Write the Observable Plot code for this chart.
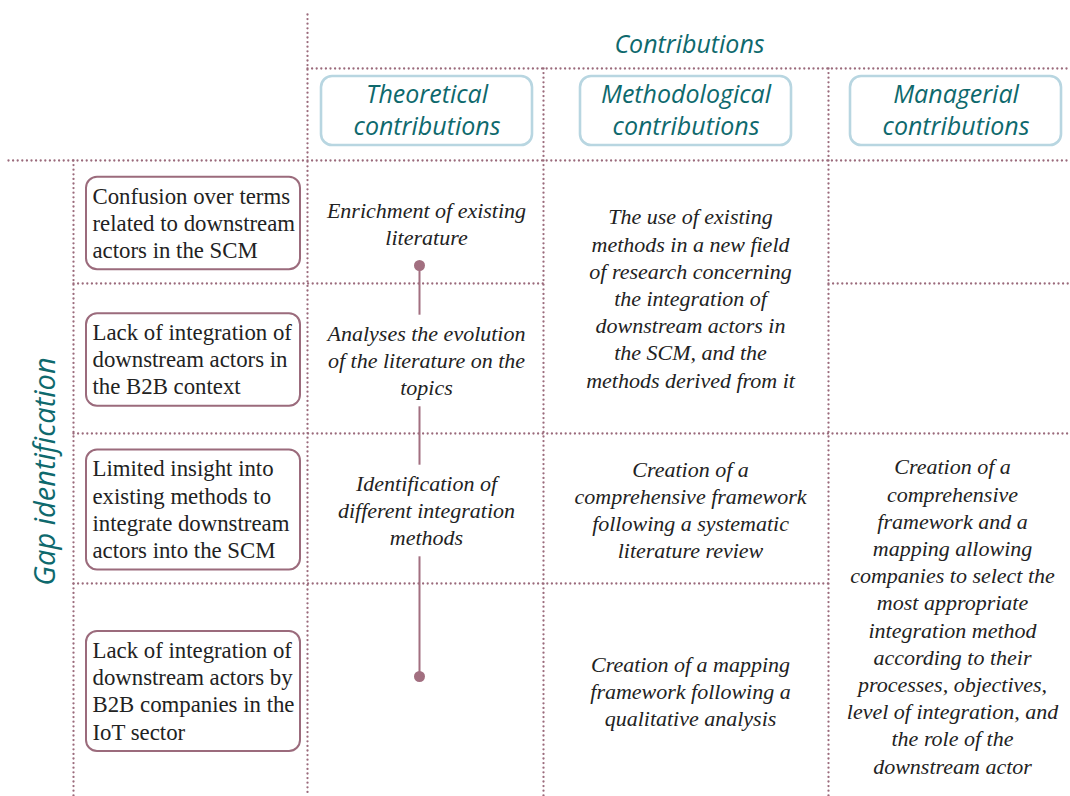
<!DOCTYPE html>
<html>
<head>
<meta charset="utf-8">
<script src="https://cdn.jsdelivr.net/npm/d3@7"></script>
<script src="https://cdn.jsdelivr.net/npm/@observablehq/plot@0.6"></script>
<style>
  html, body { margin: 0; padding: 0; background: #fff; }
  #chart svg { display: block; }
</style>
</head>
<body>
<div id="chart"></div>
<script>
// ---------- data ----------
const mainTitle = "Contributions";
const sideTitle = "Gap identification";
const contributionTypes = ["Theoretical\ncontributions", "Methodological\ncontributions", "Managerial\ncontributions"];
const gaps = [
  "Confusion over terms\nrelated to downstream\nactors in the SCM",
  "Lack of integration of\ndownstream actors in\nthe B2B context",
  "Limited insight into\nexisting methods to\nintegrate downstream\nactors into the SCM",
  "Lack of integration of\ndownstream actors by\nB2B companies in the\nIoT sector"
];
// theoretical contributions: one per gap row
const theoretical = [
  "Enrichment of existing\nliterature",
  "Analyses the evolution\nof the literature on the\ntopics",
  "Identification of\ndifferent integration\nmethods"
];
const theoreticalRows = [0, 1, 2];
// methodological contributions: [first row, last row]
const methodological = [
  "The use of existing\nmethods in a new field\nof research concerning\nthe integration of\ndownstream actors in\nthe SCM, and the\nmethods derived from it",
  "Creation of a\ncomprehensive framework\nfollowing a systematic\nliterature review",
  "Creation of a mapping\nframework following a\nqualitative analysis"
];
const methodologicalRows = [[0, 1], [2, 2], [3, 3]];
const managerial = [
  "Creation of a\ncomprehensive\nframework and a\nmapping allowing\ncompanies to select the\nmost appropriate\nintegration method\naccording to their\nprocesses, objectives,\nlevel of integration, and\nthe role of the\ndownstream actor"
];
const managerialRows = [[2, 3]];

// ---------- layout ----------
const W = 1070, H = 796;
const colX = [8, 73, 307, 543, 828, 1070];
const topY = 14, headY = 68, gridY = 160;
const rowY = [160, 283, 433, 583, 796];
const LH = 27.2;
const dotColor = "#9b6b7c";
const teal = "#0e696d";
const ink = "#222";
const serifFont = "Liberation Serif";
const sansFont = "Open Sans";

const rowCenter = (a, b) => (rowY[a] + rowY[b + 1]) / 2;
const nLines = s => s.split("\n").length;
const toLines = (items, lh) => items.flatMap(d => {
  const ls = d.t.split("\n");
  return ls.map((line, j) => ({line, x: d.x, y: d.cy + (j - (ls.length - 1) / 2) * lh}));
});

const grid = [
  {x1: colX[2], y1: topY, x2: colX[2], y2: H},
  {x1: colX[3], y1: headY, x2: colX[3], y2: H},
  {x1: colX[4], y1: headY, x2: colX[4], y2: H},
  {x1: colX[1], y1: gridY, x2: colX[1], y2: H},
  {x1: colX[2], y1: headY, x2: W, y2: headY},
  {x1: colX[0], y1: gridY, x2: W, y2: gridY},
  {x1: colX[1], y1: rowY[1], x2: colX[3], y2: rowY[1]},
  {x1: colX[4], y1: rowY[1], x2: W, y2: rowY[1]},
  {x1: colX[1], y1: rowY[2], x2: W, y2: rowY[2]},
  {x1: colX[1], y1: rowY[3], x2: colX[4], y2: rowY[3]}
];

const headBoxW = 211, headBoxH = 69;
const headCx = [426.5, 685.5, 955.5];
const heads = contributionTypes.map((t, i) => ({t, x: headCx[i], cx: headCx[i], cy: 110.5}));

const gapItems = gaps.map((t, i) => {
  const cy = rowCenter(i, i) + 1.5;
  const h = nLines(t) * LH + 11;
  return {t, x: 92, cy, y1: cy - h / 2, y2: cy + h / 2};
});

const theoItems = theoretical.map((t, i) => ({t, x: 426, cy: rowCenter(theoreticalRows[i], theoreticalRows[i]) + 2.5, n: nLines(t)}));
const methItems = methodological.map((t, i) => ({t, x: 690, cy: rowCenter(...methodologicalRows[i]) + 2, n: nLines(t)}));
const manItems = managerial.map((t, i) => ({t, x: 952, cy: rowCenter(...managerialRows[i]) + 2, n: nLines(t)}));

const tlX = 419;
const tlY1 = 265, tlY2 = 676;

const serifLines = (items, opts) => Plot.text(toLines(items, LH), {x: "x", y: "y", text: "line",
  fontFamily: serifFont, fontSize: 22, fill: ink, ...opts});

const chart = Plot.plot({
  width: W, height: H,
  margin: 0,
  x: {domain: [0, W], range: [0, W], axis: null},
  y: {domain: [0, H], range: [0, H], axis: null},
  marks: [
    Plot.link(grid, {x1: "x1", y1: "y1", x2: "x2", y2: "y2", stroke: dotColor, strokeWidth: 2.3,
      strokeDasharray: "0,4.6", strokeLinecap: "round"}),
    Plot.rect(heads, {x1: d => d.cx - headBoxW / 2, x2: d => d.cx + headBoxW / 2,
      y1: d => d.cy - headBoxH / 2, y2: d => d.cy + headBoxH / 2,
      rx: 11, fill: "#fff", stroke: "#b8d6e1", strokeWidth: 2.6}),
    Plot.rect(gapItems, {x1: 86, x2: 300, y1: "y1", y2: "y2", rx: 11, fill: "#fff",
      stroke: dotColor, strokeWidth: 2}),
    Plot.ruleX([tlX], {y1: tlY1, y2: tlY2, stroke: "#a26f80", strokeWidth: 2}),
    Plot.dot([tlY1, tlY2], {x: tlX, y: d => d, r: 5.5, fill: "#a26f80"}),
    Plot.rect(theoItems, {x1: 318, x2: 534, y1: d => d.cy - d.n * LH / 2 - 5, y2: d => d.cy + d.n * LH / 2 + 5,
      fill: "#fff"}),
    serifLines(gapItems, {textAnchor: "start", fontSize: 22.8}),
    serifLines(theoItems, {fontStyle: "italic"}),
    serifLines(methItems, {fontStyle: "italic"}),
    serifLines(manItems, {fontStyle: "italic"}),
    Plot.text([mainTitle], {x: 689, y: 44, text: d => d,
      fontFamily: sansFont, fontStyle: "italic", fontSize: 25, fill: teal}),
    Plot.text([sideTitle], {x: 45, y: 471, text: d => d, rotate: -90,
      fontFamily: sansFont, fontStyle: "italic", fontSize: 29, fill: teal}),
    Plot.text(toLines(heads, 32), {x: "x", y: "y", text: "line", fontFamily: sansFont, fontStyle: "italic",
      fontSize: 25, fill: teal})
  ]
});
document.getElementById("chart").appendChild(chart);
</script>
</body>
</html>
